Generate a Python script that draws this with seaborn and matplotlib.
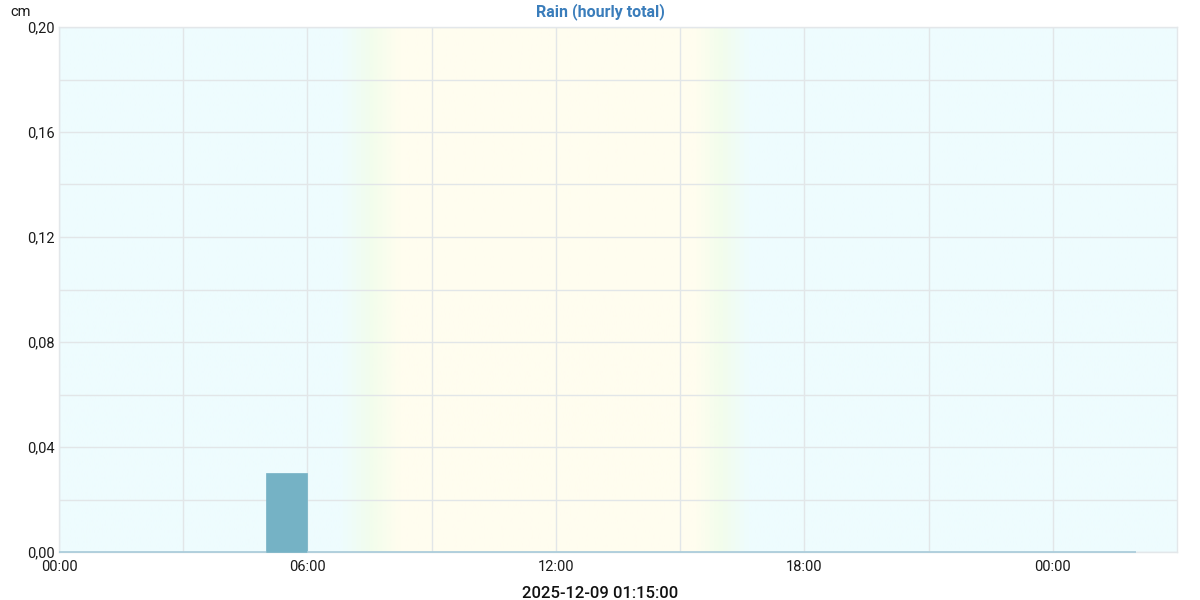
import numpy as np
import pandas as pd
import matplotlib
matplotlib.use("Agg")
import matplotlib.pyplot as plt
from matplotlib.colors import LinearSegmentedColormap
import seaborn as sns

# ---- data ----
hour_start = list(range(0, 26))           # hourly bins, 00:00 .. 01:00 next day
rain_cm = [0.0] * 26
rain_cm[5] = 0.03                          # 05:00-06:00
x_ticks = [0, 6, 12, 18, 24]
x_labels = ["00:00", "06:00", "12:00", "18:00", "00:00"]
y_ticks = [0.0, 0.04, 0.08, 0.12, 0.16, 0.20]
y_labels = ["0,00", "0,04", "0,08", "0,12", "0,16", "0,20"]
title = "Rain (hourly total)"
xlabel = "2025-12-09 01:15:00"
unit = "cm"

sns.set_theme(style="white")
plt.rcParams["font.family"] = ["Roboto", "DejaVu Sans"]

fig = plt.figure(figsize=(12, 6), dpi=100)
ax = fig.add_axes([59 / 1200, 48 / 600, 1118 / 1200, 525 / 600])

# day/night background gradient
cmap = LinearSegmentedColormap.from_list(
    "daynight",
    [(0.0, "#eefcfe"), (6.8 / 27, "#eefcfe"), (7.5 / 27, "#f2fdec"),
     (8.2 / 27, "#fffdef"), (15.4 / 27, "#fffdef"), (16.0 / 27, "#f2fdec"),
     (16.7 / 27, "#eefcfe"), (1.0, "#eefcfe")])
grad = np.linspace(0, 1, 1000).reshape(1, -1)
ax.imshow(grad, extent=[0, 27, 0, 0.2], aspect="auto", cmap=cmap,
          zorder=0, interpolation="bilinear")

df = pd.DataFrame({"center": np.array(hour_start) + 0.5, "rain": rain_cm})
sns.barplot(data=df, x="center", y="rain", native_scale=True, width=1.0,
            color="#75b2c5", saturation=1, edgecolor="#a8cbda",
            linewidth=1.2, ax=ax, zorder=3)
for p in ax.patches:
    p.set_clip_on(False)
    if p.get_height() > 0:
        p.set_edgecolor(p.get_facecolor())
        p.set_linewidth(0.5)

ax.set_xlim(0, 27)
ax.set_ylim(0, 0.2)
ax.set_xticks(x_ticks)
ax.set_xticklabels(x_labels, fontsize=10.5, color="#1a1a1a")
ax.set_xticks(np.arange(0, 27, 3), minor=True)
ax.set_yticks(y_ticks)
ax.set_yticklabels(y_labels, fontsize=10.5, color="#1a1a1a")
ax.set_yticks(np.arange(0, 0.201, 0.02), minor=True)
ax.grid(True, which="both", color="#e2e6e8", linewidth=1.0, zorder=1)
for gl in ax.get_xgridlines() + ax.get_ygridlines():
    gl.set_zorder(1)
ax.tick_params(axis="y", which="both", length=0, pad=3)
ax.tick_params(axis="x", which="both", length=0, pad=6)
for s in ax.spines.values():
    s.set_color("#e3e7ea")
    s.set_linewidth(1.0)
    s.set_zorder(2)

ax.set_xlabel("")
ax.set_ylabel("")
fig.text(600 / 1200, 1 - 12 / 600, title, fontsize=11.5, fontweight="bold",
         color="#3a7dbb", ha="center", va="center")
fig.text(600 / 1200, 1 - 593 / 600, xlabel, fontsize=12, color="#111111",
         fontweight="medium", ha="center", va="center")
fig.text(10 / 1200, 1 - 12 / 600, unit, fontsize=10.5, color="#1a1a1a",
         va="center", ha="left")

fig.savefig("out.png", dpi=100, facecolor="white")
